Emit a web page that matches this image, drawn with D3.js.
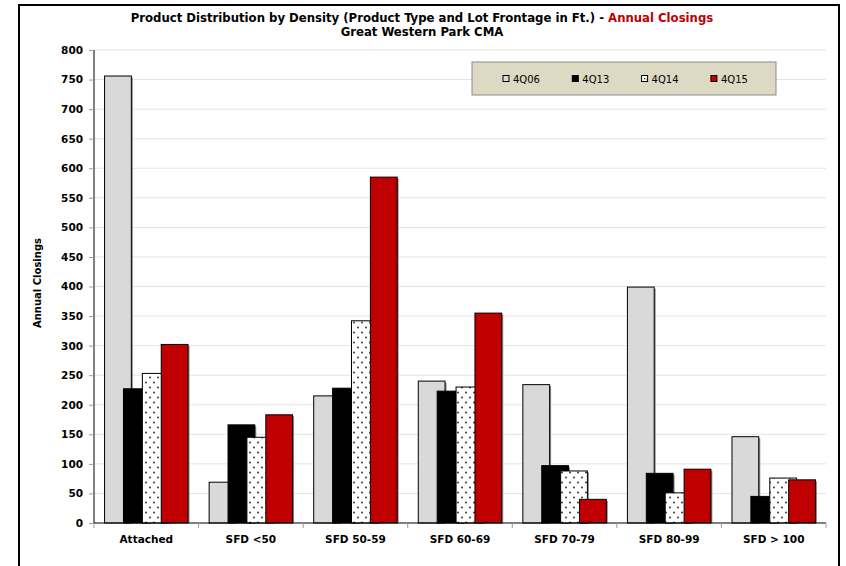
<!DOCTYPE html>
<html>
<head>
<meta charset="utf-8">
<script src="https://cdn.jsdelivr.net/npm/d3@7"></script>
<style>
  html, body { margin: 0; padding: 0; background: #ffffff; }
  svg { display: block; }
</style>
</head>
<body>
<svg id="chart" width="846" height="566"></svg>
<script>
// Product type / lot frontage groups
const categories = ["Attached", "SFD <50", "SFD 50-59", "SFD 60-69", "SFD 70-79", "SFD 80-99", "SFD > 100"];
// Annual closings per period
const closings4Q06 = [756, 69, 215, 240, 234, 399, 146];
const closings4Q13 = [227, 166, 228, 223, 97, 84, 45];
const closings4Q14 = [253, 145, 342, 230, 88, 51, 76];
const closings4Q15 = [302, 183, 585, 355, 40, 91, 73];
const seriesNames = ["4Q06", "4Q13", "4Q14", "4Q15"];
const yTicks = [0, 50, 100, 150, 200, 250, 300, 350, 400, 450, 500, 550, 600, 650, 700, 750, 800];

const series = [
  { name: seriesNames[0], values: closings4Q06, fill: "#D9D9D9" },
  { name: seriesNames[1], values: closings4Q13, fill: "#000000" },
  { name: seriesNames[2], values: closings4Q14, fill: "url(#dots)" },
  { name: seriesNames[3], values: closings4Q15, fill: "#C00000" }
];

const svg = d3.select("#chart");
const defs = svg.append("defs");

// white with small black dots for the 4Q14 bars
const pat = defs.append("pattern")
  .attr("id", "dots").attr("patternUnits", "userSpaceOnUse")
  .attr("width", 8).attr("height", 10);
pat.append("rect").attr("width", 8).attr("height", 10).attr("fill", "#ffffff");
pat.append("circle").attr("cx", 2).attr("cy", 2.5).attr("r", 0.9).attr("fill", "#222");
pat.append("circle").attr("cx", 6).attr("cy", 7.5).attr("r", 0.9).attr("fill", "#222");

// outer frame
svg.append("rect")
  .attr("x", 19).attr("y", 5).attr("width", 820).attr("height", 620)
  .attr("fill", "none").attr("stroke", "#000").attr("stroke-width", 2);

const plot = { left: 94, right: 826, top: 50, bottom: 523 };

const y = d3.scaleLinear().domain([0, 800]).range([plot.bottom, plot.top]);
const x = d3.scaleBand().domain(categories).range([plot.left, plot.right]).padding(0);
const B = x.bandwidth();
const barW = 0.256 * B;
const step = 0.1807 * B;
const cluster = 3 * step + barW;
const offset = (B - cluster) / 2;

// gridlines
svg.append("g").selectAll("line")
  .data(yTicks.filter(d => d > 0))
  .join("line")
  .attr("x1", plot.left).attr("x2", plot.right)
  .attr("y1", d => y(d)).attr("y2", d => y(d))
  .attr("stroke", "#E4E4E4").attr("stroke-width", 1);

// clip for bar shadows so they stay above the baseline
defs.append("clipPath").attr("id", "plotClip")
  .append("rect").attr("x", plot.left).attr("y", 0)
  .attr("width", plot.right - plot.left).attr("height", plot.bottom);

const barsG = svg.append("g");
series.forEach((s, i) => {
  const g = barsG.append("g");
  const rows = categories.map((c, j) => ({ c, v: s.values[j] }));
  g.append("g").attr("clip-path", "url(#plotClip)")
    .selectAll("rect").data(rows).join("rect")
    .attr("x", d => x(d.c) + offset + i * step + 1.5)
    .attr("y", d => y(d.v) + 1.5)
    .attr("width", barW)
    .attr("height", d => plot.bottom - y(d.v))
    .attr("fill", "#8a8a8a");
  g.selectAll("rect.bar").data(rows).join("rect")
    .attr("class", "bar")
    .attr("x", d => x(d.c) + offset + i * step)
    .attr("y", d => y(d.v))
    .attr("width", barW)
    .attr("height", d => plot.bottom - y(d.v))
    .attr("fill", s.fill)
    .attr("stroke", "#000").attr("stroke-width", 1);
});

// y axis
const yAxis = d3.axisLeft(y).tickValues(yTicks).tickSize(5).tickPadding(6);
const yg = svg.append("g").attr("transform", `translate(${plot.left},0)`).call(yAxis);
yg.select(".domain").attr("stroke", "#000").attr("d", `M0,${plot.top}V${plot.bottom}`);
yg.selectAll(".tick line").attr("stroke", "#9a9a9a");
yg.selectAll(".tick text")
  .attr("font-family", "DejaVu Sans, Verdana, sans-serif")
  .attr("font-size", "10.5px").attr("font-weight", "bold").attr("fill", "#000");

// x axis
const xAxis = d3.axisBottom(x).tickSize(0).tickPadding(13);
const xg = svg.append("g").attr("transform", `translate(0,${plot.bottom})`).call(xAxis);
xg.select(".domain").attr("stroke", "#000").attr("d", `M${plot.left},0H${plot.right}`);
xg.selectAll(".tick text")
  .attr("font-family", "DejaVu Sans, Verdana, sans-serif")
  .attr("font-size", "10.5px").attr("font-weight", "bold").attr("fill", "#000");
// category boundary ticks
xg.append("g").selectAll("line")
  .data(categories.map(c => x(c)).concat([plot.right]))
  .join("line")
  .attr("x1", d => d).attr("x2", d => d).attr("y1", 0).attr("y2", 5)
  .attr("stroke", "#9a9a9a");

// y axis title
svg.append("text")
  .attr("transform", "translate(41,283) rotate(-90)")
  .attr("text-anchor", "middle")
  .attr("font-family", "DejaVu Sans, Verdana, sans-serif")
  .attr("font-size", "10px").attr("font-weight", "bold")
  .text("Annual Closings");

// chart title, sized so the first line spans the chart's upper band
const titleFont = "DejaVu Sans Condensed, DejaVu Sans, sans-serif";
const title = svg.append("text")
  .attr("x", 422).attr("y", 22).attr("text-anchor", "middle")
  .attr("font-family", titleFont)
  .attr("font-size", "12px").attr("font-weight", "bold");
title.append("tspan").attr("fill", "#000")
  .text("Product Distribution by Density (Product Type and Lot Frontage in Ft.) - ");
title.append("tspan").attr("fill", "#C00000").text("Annual Closings");
const measured = title.node().getComputedTextLength();
const titleSize = Math.min(13.5, 12 * 583 / measured);
title.attr("font-size", titleSize + "px");
svg.append("text")
  .attr("x", 422).attr("y", 36).attr("text-anchor", "middle")
  .attr("font-family", titleFont)
  .attr("font-size", titleSize + "px").attr("font-weight", "bold")
  .text("Great Western Park CMA");

// legend
const legend = svg.append("g").attr("transform", "translate(472,62)");
legend.append("rect")
  .attr("width", 304).attr("height", 33)
  .attr("fill", "#DDD9C3").attr("stroke", "#8c8c8c").attr("stroke-width", 1);
const items = legend.selectAll("g.item").data(series).join("g")
  .attr("class", "item")
  .attr("transform", (d, i) => `translate(${31 + i * 69.3},0)`);
items.append("rect")
  .attr("x", 0).attr("y", 13.5).attr("width", 6).attr("height", 6)
  .attr("fill", d => d.fill).attr("stroke", "#000").attr("stroke-width", 1);
items.filter((d, i) => i === 2).append("rect")
  .attr("x", 2.5).attr("y", 16).attr("width", 1.2).attr("height", 1.2).attr("fill", "#000");
items.append("text")
  .attr("x", 10).attr("y", 21)
  .attr("font-family", "DejaVu Sans, Verdana, sans-serif")
  .attr("font-size", "10px").attr("fill", "#000")
  .text(d => d.name);
</script>
</body>
</html>
